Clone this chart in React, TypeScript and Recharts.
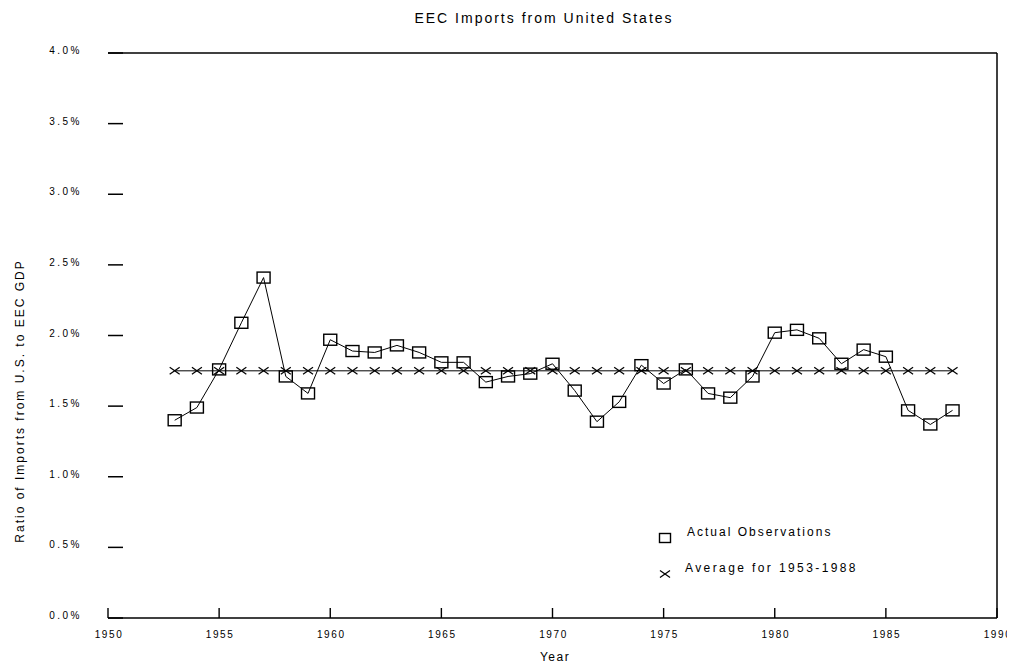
import { Line, LineChart, ReferenceLine, XAxis, YAxis } from "recharts";

const years = [
  1953, 1954, 1955, 1956, 1957, 1958, 1959, 1960, 1961, 1962, 1963, 1964,
  1965, 1966, 1967, 1968, 1969, 1970, 1971, 1972, 1973, 1974, 1975, 1976,
  1977, 1978, 1979, 1980, 1981, 1982, 1983, 1984, 1985, 1986, 1987, 1988,
];

// ratio of imports from the U.S. to EEC GDP, in percent
const observed = [
  1.4, 1.49, 1.76, 2.09, 2.41, 1.71, 1.59, 1.97, 1.89, 1.88, 1.93, 1.88,
  1.81, 1.81, 1.67, 1.71, 1.73, 1.8, 1.61, 1.39, 1.53, 1.79, 1.66, 1.76,
  1.59, 1.56, 1.71, 2.02, 2.04, 1.98, 1.8, 1.9, 1.85, 1.47, 1.37, 1.47,
];

const averageLevel = 1.75;

const xTicks = [1950, 1955, 1960, 1965, 1970, 1975, 1980, 1985, 1990];
const yTicks = [0, 0.5, 1, 1.5, 2, 2.5, 3, 3.5, 4];

const rows = years.map((year, i) => ({
  year,
  observed: observed[i],
  average: averageLevel,
}));

const FONT = "'Liberation Sans', Arial, sans-serif";

function SquareDot(props: any) {
  const { cx, cy } = props;
  if (cx == null || cy == null) return null;
  return (
    <rect
      x={cx - 6.5}
      y={cy - 5.5}
      width={13}
      height={11}
      fill="none"
      stroke="#000"
      strokeWidth={1.4}
    />
  );
}

function CrossDot(props: any) {
  const { cx, cy } = props;
  if (cx == null || cy == null) return null;
  return (
    <g stroke="#000" strokeWidth={1.2}>
      <line x1={cx - 5} y1={cy - 3.5} x2={cx + 5} y2={cy + 3.5} />
      <line x1={cx - 5} y1={cy + 3.5} x2={cx + 5} y2={cy - 3.5} />
    </g>
  );
}

function YTick(props: any) {
  const { x, y, payload } = props;
  return (
    <g>
      <line x1={x} x2={x + 15} y1={y} y2={y} stroke="#000" strokeWidth={1.5} />
      <text
        x={x - 26}
        y={y + 1}
        textAnchor="end"
        fontSize={10}
        fontFamily={FONT}
        style={{ letterSpacing: 2.5 }}
        fill="#000"
      >
        {payload.value.toFixed(1)}%
      </text>
    </g>
  );
}

function XTick(props: any) {
  const { x, y, payload } = props;
  return (
    <g>
      <line x1={x} x2={x} y1={y} y2={y - 10} stroke="#000" strokeWidth={1.4} />
      <text
        x={x + 1}
        y={y + 20}
        textAnchor="middle"
        fontSize={10}
        fontFamily={FONT}
        style={{ letterSpacing: 1.6 }}
        fill="#000"
      >
        {payload.value}
      </text>
    </g>
  );
}

export default function App() {
  return (
    <div
      style={{
        position: "relative",
        width: 1007,
        height: 660,
        fontFamily: FONT,
        color: "#000",
        background: "#fff",
      }}
    >
      <LineChart
        width={1007}
        height={660}
        data={rows}
        margin={{ top: 45, right: 18, bottom: 8, left: 0 }}
      >
        <XAxis
          dataKey="year"
          type="number"
          domain={[1950, 1990]}
          ticks={xTicks}
          interval={0}
          height={42}
          tickSize={0}
          tickMargin={0}
          tickLine={false}
          tick={<XTick />}
          axisLine={{ stroke: "#000", strokeWidth: 1.5 }}
        />
        <YAxis
          type="number"
          domain={[0, 4]}
          ticks={yTicks}
          interval={0}
          width={100}
          tickSize={0}
          tickMargin={0}
          tickLine={false}
          tick={<YTick />}
          axisLine={false}
        />
        <ReferenceLine y={4} stroke="#000" strokeWidth={1.5} />
        <ReferenceLine x={1990} stroke="#000" strokeWidth={1.5} />
        <Line
          dataKey="average"
          stroke="#000"
          strokeWidth={1}
          dot={<CrossDot />}
          activeDot={false}
          isAnimationActive={false}
        />
        <Line
          dataKey="observed"
          stroke="#000"
          strokeWidth={1}
          dot={<SquareDot />}
          activeDot={false}
          isAnimationActive={false}
        />
      </LineChart>

      <div
        style={{
          position: "absolute",
          left: 536,
          top: 10,
          transform: "translate(-50%, -50%)",
          fontSize: 14,
          letterSpacing: 2,
          whiteSpace: "nowrap",
        }}
      >
        EEC Imports from United States
      </div>

      <div
        style={{
          position: "absolute",
          left: 12,
          top: 393,
          transform: "translate(-50%, -50%) rotate(-90deg)",
          fontSize: 12,
          letterSpacing: 2,
          whiteSpace: "nowrap",
        }}
      >
        Ratio of Imports from U.S. to EEC GDP
      </div>

      <div
        style={{
          position: "absolute",
          left: 547,
          top: 649,
          transform: "translate(-50%, -50%)",
          fontSize: 12,
          letterSpacing: 1.5,
        }}
      >
        Year
      </div>

      <svg
        width={14}
        height={14}
        style={{ position: "absolute", left: 650, top: 523 }}
      >
        <rect x={1.5} y={2.5} width={11} height={9} fill="none" stroke="#000" strokeWidth={1.4} />
      </svg>
      <div
        style={{
          position: "absolute",
          left: 679,
          top: 524,
          transform: "translateY(-50%)",
          fontSize: 12,
          letterSpacing: 2,
          whiteSpace: "nowrap",
        }}
      >
        Actual Observations
      </div>

      <svg
        width={14}
        height={14}
        style={{ position: "absolute", left: 650, top: 559 }}
      >
        <line x1={2} y1={3.5} x2={12} y2={10.5} stroke="#000" strokeWidth={1.2} />
        <line x1={2} y1={10.5} x2={12} y2={3.5} stroke="#000" strokeWidth={1.2} />
      </svg>
      <div
        style={{
          position: "absolute",
          left: 677,
          top: 560,
          transform: "translateY(-50%)",
          fontSize: 12,
          letterSpacing: 2.4,
          whiteSpace: "nowrap",
        }}
      >
        Average for 1953-1988
      </div>
    </div>
  );
}
